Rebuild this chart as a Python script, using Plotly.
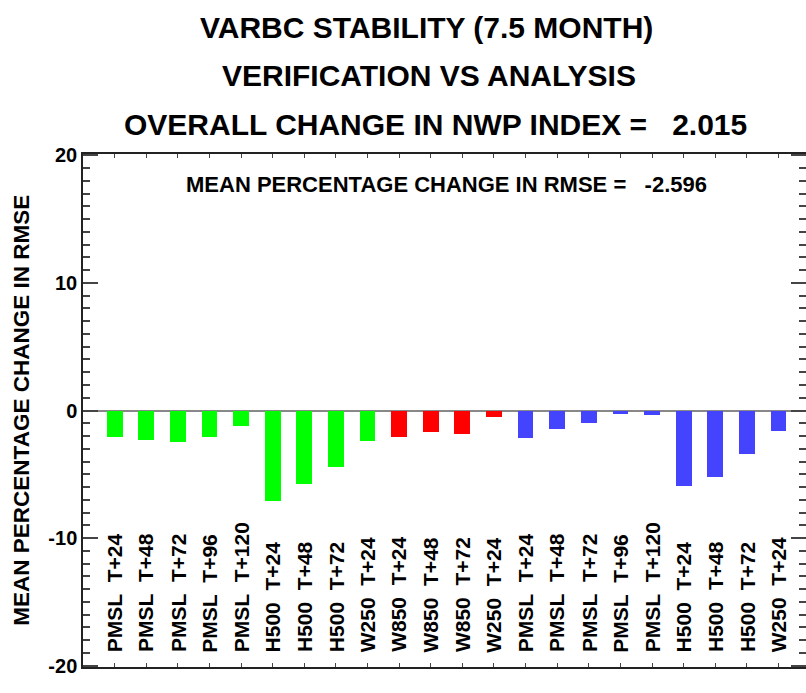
import plotly.graph_objects as go

params = ["PMSL", "PMSL", "PMSL", "PMSL", "PMSL", "H500", "H500", "H500", "W250",
          "W850", "W850", "W850", "W250",
          "PMSL", "PMSL", "PMSL", "PMSL", "PMSL", "H500", "H500", "H500", "W250"]
leads = ["T+24", "T+48", "T+72", "T+96", "T+120", "T+24", "T+48", "T+72", "T+24",
         "T+24", "T+48", "T+72", "T+24",
         "T+24", "T+48", "T+72", "T+96", "T+120", "T+24", "T+48", "T+72", "T+24"]
regions = ["NHEM"] * 9 + ["TROP"] * 4 + ["SHEM"] * 9
values = [-2.09, -2.32, -2.48, -2.09, -1.23, -7.10, -5.77, -4.44, -2.40,
          -2.09, -1.70, -1.85, -0.52,
          -2.17, -1.46, -0.99, -0.29, -0.37, -5.93, -5.22, -3.42, -1.62]
region_names = ["NHEM", "TROP", "SHEM"]
region_colors = {"NHEM": "#00FF00", "TROP": "#FF0000", "SHEM": "#4444FF"}
title_lines = ["VARBC STABILITY (7.5 MONTH)", "VERIFICATION VS ANALYSIS",
               "OVERALL CHANGE IN NWP INDEX =\u00a0\u00a0\u00a02.015"]
inner_text = "MEAN PERCENTAGE CHANGE IN RMSE =\u00a0\u00a0\u00a0-2.596"
y_title = "MEAN PERCENTAGE CHANGE IN RMSE"

xs = list(range(len(values)))
FONT = "Liberation Sans, Arial, sans-serif"
PLOT_W = 725  # plot area width in px (left edge at 83)

fig = go.Figure()
fig.add_trace(go.Bar(
    x=xs, y=values, width=0.5,
    marker=dict(color=[region_colors[r] for r in regions], line=dict(width=0)),
    showlegend=False,
))

annotations = []
# bar labels
for i, (p, l) in enumerate(zip(params, leads)):
    annotations.append(dict(
        x=i, y=-19.1, xref="x", yref="y", text=f"<b>{p}\u00a0\u00a0{l}</b>",
        textangle=-90, showarrow=False, xanchor="center", yanchor="bottom",
        font=dict(family=FONT, size=21, color="black"),
    ))
# region labels
for name in region_names:
    idx = [i for i, r in enumerate(regions) if r == name]
    cx = (idx[0] + idx[-1]) / 2
    annotations.append(dict(
        x=cx, y=-21.45, xref="x", yref="y", text=f"<b>{name}</b>",
        showarrow=False, xanchor="center", yanchor="middle",
        font=dict(family=FONT, size=20, color=region_colors[name]),
    ))
# inner annotation
annotations.append(dict(
    x=10.5, y=17.7, xref="x", yref="y", text=f"<b>{inner_text}</b>",
    showarrow=False, xanchor="center", yanchor="middle",
    font=dict(family=FONT, size=22, color="black"),
))
# titles
for txt, py, cx in zip(title_lines, [28, 75, 125], [427, 430, 436]):
    annotations.append(dict(
        x=(cx - 83) / PLOT_W, y=(667 - py) / 513, xref="paper", yref="paper",
        text=f"<b>{txt}</b>", showarrow=False, xanchor="center", yanchor="middle",
        font=dict(family=FONT, size=30, color="black"),
    ))
# y title
annotations.append(dict(
    x=-62 / PLOT_W, y=0.5, xref="paper", yref="paper", text=f"<b>{y_title}</b>",
    textangle=-90, showarrow=False, xanchor="center", yanchor="middle",
    font=dict(family=FONT, size=22.5, color="black"),
))

fig.update_layout(
    width=83 + PLOT_W, height=693,
    margin=dict(l=83, r=0, t=154, b=26),
    paper_bgcolor="white", plot_bgcolor="white",
    bargap=0,
    annotations=annotations,
    xaxis=dict(
        range=[-1.0, -1.0 + PLOT_W / 31.7], tickvals=xs, ticks="inside", ticklen=4,
        showticklabels=False, showgrid=False, zeroline=False,
        showline=True, linecolor="#222", linewidth=1.5, mirror="ticks",
        tickcolor="#444",
    ),
    yaxis=dict(
        range=[-20.1, 20.1], tickvals=[-20, -10, 0, 10, 20],
        ticktext=["<b>-20</b>", "<b>-10</b>", "<b>0</b>", "<b>10</b>", "<b>20</b>"],
        ticks="inside", ticklen=15, tickcolor="#444", tickwidth=1.5,
        tickfont=dict(family=FONT, size=20, color="black"),
        minor=dict(dtick=1, ticks="inside", ticklen=7, tickcolor="#444", showgrid=False),
        showgrid=False, zeroline=True, zerolinecolor="#888", zerolinewidth=2,
        showline=True, linecolor="#222", linewidth=1.5, mirror="ticks",
    ),
)

fig.write_html(
    "out.html",
    config={"displayModeBar": False},
    post_script="document.body.style.margin='0';document.body.style.overflow='hidden';",
)
